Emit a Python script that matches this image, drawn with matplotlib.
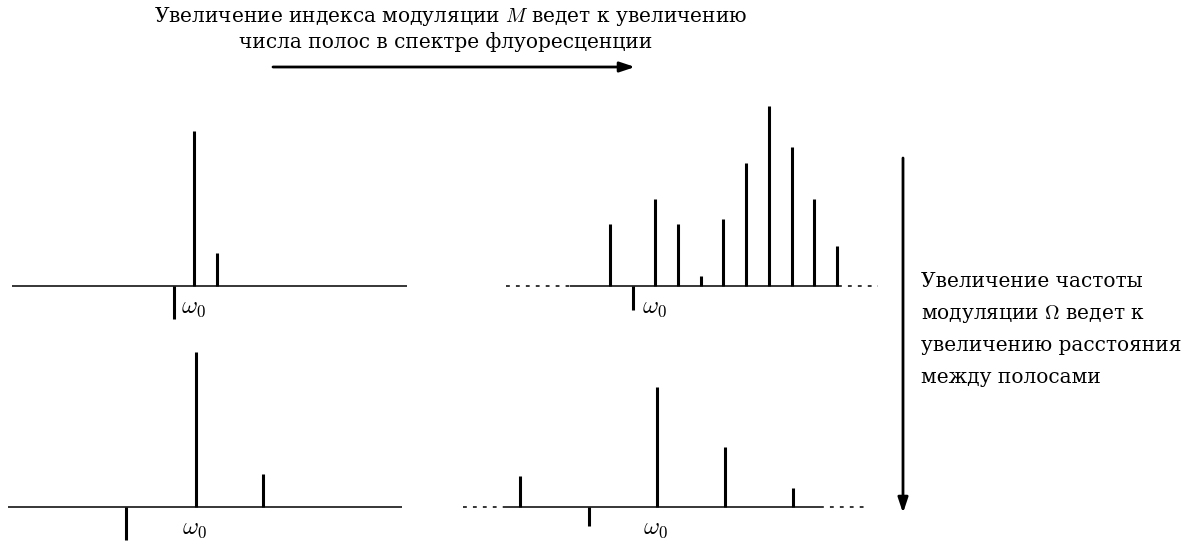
import matplotlib
matplotlib.use("Agg")
import matplotlib.pyplot as plt

plt.rcParams['font.family'] = ['DejaVu Serif']
plt.rcParams['mathtext.fontset'] = 'cm'

# === Спектры: смещения полос (в единицах Ω) и амплитуды ===
# верх-лево: малый M, малая Ω
p1_offsets = [0, 1]
p1_amps = [155, 33]
p1_tick = -0.88
p1_tick_depth = 33

# верх-право: большой M, малая Ω
p2_offsets = [-2, 0, 1, 2, 3, 4, 5, 6, 7, 8]
p2_amps = [62, 87, 62, 10, 67, 123, 180, 139, 87, 40]
p2_tick = -1
p2_tick_depth = 24

# низ-лево: малый M, большая Ω
p3_offsets = [0, 1]
p3_amps = [155, 33]
p3_tick = -1.03
p3_tick_depth = 33

# низ-право: большая Ω
p4_offsets = [-2, 0, 1, 2]
p4_amps = [31, 120, 60, 19]
p4_tick = -1
p4_tick_depth = 19

top_text = ["Увеличение индекса модуляции $M$ ведет к увеличению",
            "числа полос в спектре флуоресценции"]
right_text = ["Увеличение частоты",
              "модуляции $\\Omega$ ведет к",
              "увеличению расстояния",
              "между полосами"]

# === Раскладка (пиксели) ===
W, H = 1199, 544
fig = plt.figure(figsize=(W / 100, H / 100), dpi=100)
ax = fig.add_axes([0, 0, 1, 1])
ax.set_xlim(0, W)
ax.set_ylim(H, 0)
ax.axis('off')

STEM_LW = 2.2
BASE_LW = 1.1
TXT = 14.5

# (offsets, amps, tick, depth, x0, baseline, omega, solid, dotted)
panels = [
    (p1_offsets, p1_amps, p1_tick, p1_tick_depth, 194, 285.7, 22.7, (12, 407), []),
    (p2_offsets, p2_amps, p2_tick, p2_tick_depth, 655.3, 286, 22.7, (570, 838),
     [(506, 570), (838, 878)]),
    (p3_offsets, p3_amps, p3_tick, p3_tick_depth, 195.7, 506.7, 67.6, (8, 402), []),
    (p4_offsets, p4_amps, p4_tick, p4_tick_depth, 656.7, 506.7, 68.2, (505, 820),
     [(463, 505), (820, 868)]),
]

for offs, amps, tick, depth, x0, yb, om, solid, dotted in panels:
    ax.plot(solid, [yb, yb], color='black', lw=BASE_LW, solid_capstyle='butt')
    for a, b in dotted:
        ax.plot([a, b], [yb, yb], color='black', lw=BASE_LW,
                linestyle=(0, (2.5, 4)))
    for o, h in zip(offs, amps):
        x = x0 + o * om
        ax.plot([x, x], [yb, yb - h], color='black', lw=STEM_LW,
                solid_capstyle='butt')
    xt = x0 + tick * om
    ax.plot([xt, xt], [yb, yb + depth], color='black', lw=STEM_LW,
            solid_capstyle='butt')
    ax.text(x0 - 1, yb + 27, r'$\omega_0$', fontsize=17.5, ha='center',
            va='baseline')

# === Подписи и стрелки ===
ax.text(451, 21.7, top_text[0], fontsize=TXT, ha='center', va='baseline')
ax.text(446, 48.3, top_text[1], fontsize=TXT, ha='center', va='baseline')
ax.annotate('', xy=(635, 67), xytext=(273, 67),
            arrowprops=dict(arrowstyle='-|>,head_length=0.9,head_width=0.3',
                            lw=2, color='black', shrinkA=0, shrinkB=0))
ax.annotate('', xy=(903, 513), xytext=(903, 158),
            arrowprops=dict(arrowstyle='-|>,head_length=0.9,head_width=0.3',
                            lw=2, color='black', shrinkA=0, shrinkB=0))

for i, line in enumerate(right_text):
    ax.text(921, 287 + 32 * i, line, fontsize=TXT, ha='left', va='baseline')

fig.savefig('out.png', dpi=100)
